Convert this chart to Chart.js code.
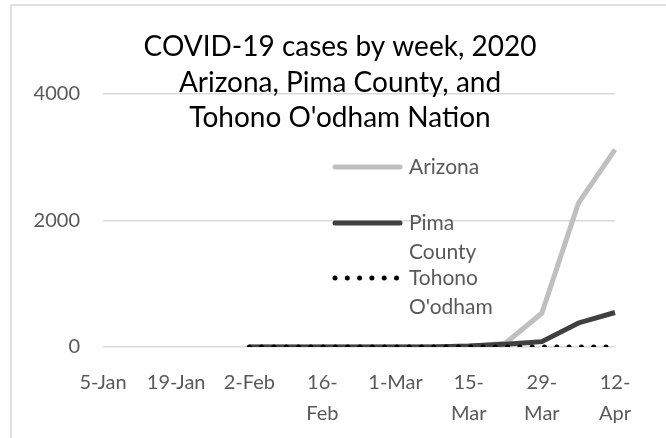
<!DOCTYPE html>
<html>
<head>
<meta charset="utf-8">
<script src="https://cdn.jsdelivr.net/npm/chart.js@4"></script>
<style>
  html, body { margin: 0; padding: 0; background: #fff; }
  #wrap { width: 666px; height: 438px; }
</style>
</head>
<body>
<div id="wrap"><canvas id="covidChart" width="666" height="438"></canvas></div>
<script>
// weekly categories (Sunday of each week), 2020
const weeks = ['5-Jan', '12-Jan', '19-Jan', '26-Jan', '2-Feb', '9-Feb', '16-Feb', '23-Feb',
    '1-Mar', '8-Mar', '15-Mar', '22-Mar', '29-Mar', '5-Apr', '12-Apr'];
// labels shown under the axis (every other week, wrapped like the original)
const tickLabels = ['5-Jan', '', '19-Jan', '', '2-Feb', '', ['16-', 'Feb'], '',
    '1-Mar', '', ['15-', 'Mar'], '', ['29-', 'Mar'], '', ['12-', 'Apr']];

const arizona = [null, null, null, null, 0, 0, 0, 0, 0, 2, 10, 60, 535, 2275, 3120];
const pima = [null, null, null, null, 0, 0, 0, 0, 0, 1, 15, 45, 85, 380, 545];
const tohono = [null, null, null, null, 0, 0, 0, 0, 0, 0, 0, 0, 0, 0, 0];

const titleLines = ['COVID-19 cases by week, 2020', 'Arizona, Pima County, and', "Tohono O'odham Nation"];
const legendLines = [['Arizona'], ['Pima', 'County'], ['Tohono', "O'odham"]];

const FONT = 'Lato, "Open Sans", sans-serif';

// outer frame + title + legend drawn straight on the canvas
const decorPlugin = {
    id: 'decor',
    beforeDraw(chart) {
        const ctx = chart.ctx;
        ctx.save();
        ctx.strokeStyle = '#e0e0e0';
        ctx.lineWidth = 2;
        ctx.beginPath();
        ctx.moveTo(11, 460);
        ctx.lineTo(11, 5);
        ctx.lineTo(680, 5);
        ctx.stroke();
        ctx.restore();
    },
    afterDraw(chart) {
        const ctx = chart.ctx;
        ctx.save();
        // title
        ctx.fillStyle = '#000';
        ctx.font = '28px ' + FONT;
        ctx.textAlign = 'center';
        ctx.textBaseline = 'middle';
        titleLines.forEach((t, i) => ctx.fillText(t, 340, 47 + i * 35.5));

        // legend
        const rows = [167, 223, 278];
        chart.data.datasets.forEach((ds, i) => {
            const y = rows[i];
            ctx.save();
            ctx.strokeStyle = ds.borderColor;
            ctx.lineWidth = ds.borderWidth;
            ctx.lineCap = 'round';
            ctx.setLineDash(ds.borderDash || []);
            ctx.beginPath();
            ctx.moveTo(335, y);
            ctx.lineTo(ds.borderDash ? 398 : 400, y);
            ctx.stroke();
            ctx.restore();
            ctx.fillStyle = '#595959';
            ctx.font = '21px ' + FONT;
            ctx.textAlign = 'left';
            ctx.textBaseline = 'middle';
            legendLines[i].forEach((t, j) => ctx.fillText(t, 409, y + j * 29));
        });
        ctx.restore();
    }
};

const ctx = document.getElementById('covidChart').getContext('2d');
new Chart(ctx, {
    type: 'line',
    data: {
        labels: weeks,
        datasets: [{
            label: 'Arizona',
            data: arizona,
            borderColor: '#bfbfbf',
            borderWidth: 5,
            pointRadius: 0,
            order: 3
        }, {
            label: 'Pima County',
            data: pima,
            borderColor: '#404040',
            borderWidth: 5,
            pointRadius: 0,
            order: 2
        }, {
            label: "Tohono O'odham",
            data: tohono,
            borderColor: '#000000',
            borderWidth: 5,
            borderDash: [0, 12.3],
            borderCapStyle: 'round',
            pointRadius: 0,
            order: 1
        }]
    },
    options: {
        responsive: false,
        animation: false,
        layout: { padding: { left: 0, top: 94, right: 51, bottom: 0 } },
        plugins: {
            legend: { display: false },
            title: { display: false },
            tooltip: { enabled: false }
        },
        scales: {
            x: {
                offset: false,
                grid: { display: false, drawTicks: false },
                border: { display: false },
                afterFit(scale) { scale.height = 91; },
                ticks: {
                    autoSkip: false,
                    maxRotation: 0,
                    padding: 20,
                    color: '#595959',
                    font: { family: FONT, size: 20, lineHeight: 1.55 },
                    callback: (v, i) => tickLabels[i]
                }
            },
            y: {
                min: 0,
                max: 4000,
                grid: { color: '#d9d9d9', lineWidth: 1.5, drawTicks: false },
                border: { display: false },
                afterFit(scale) { scale.width = 103; },
                ticks: {
                    stepSize: 2000,
                    padding: 23,
                    color: '#595959',
                    font: { family: FONT, size: 20 },
                    callback: (v) => String(v)
                }
            }
        }
    },
    plugins: [decorPlugin]
});
</script>
</body>
</html>
